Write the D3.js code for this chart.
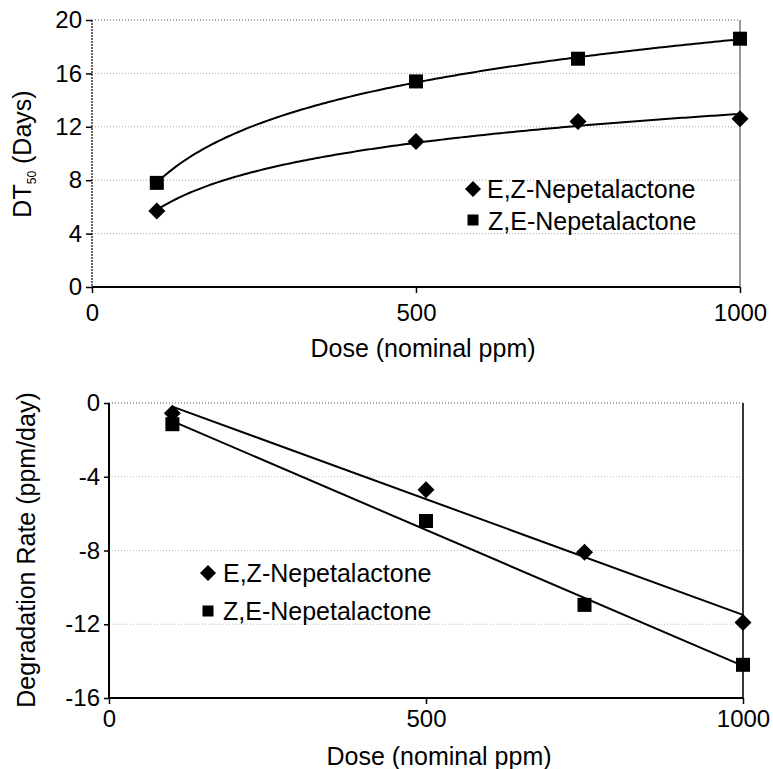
<!DOCTYPE html>
<html>
<head>
<meta charset="utf-8">
<script src="https://cdn.jsdelivr.net/npm/d3@7"></script>
<style>
  body { margin: 0; background: #fff; }
  text { font-family: "Liberation Sans", Arial, sans-serif; fill: #000; }
</style>
</head>
<body>
<svg id="chart" width="773" height="769"></svg>
<script>
// values
const doses = [100, 500, 750, 1000];
const seriesNames = ["E,Z-Nepetalactone", "Z,E-Nepetalactone"];
const dtEZ = [5.7, 10.9, 12.4, 12.6];
const dtZE = [7.8, 15.4, 17.1, 18.6];
const rateEZ = [-0.55, -4.7, -8.1, -11.9];
const rateZE = [-1.15, -6.4, -10.95, -14.2];
const doseTicks = [0, 500, 1000];
const dtTicks = [0, 4, 8, 12, 16, 20];
const rateTicks = [0, -4, -8, -12, -16];

const svg = d3.select("#chart");
const plain = d => String(d);

// least squares trendlines, log for DT50 and linear for rate
function fit(xs, ys, tx) {
    const lx = xs.map(tx);
    const mx = d3.mean(lx), my = d3.mean(ys);
    let sxy = 0, sxx = 0;
    lx.forEach((v, i) => { sxy += (v - mx) * (ys[i] - my); sxx += (v - mx) * (v - mx); });
    const a = sxy / sxx;
    return x => my + a * (tx(x) - mx);
}

const diamond = d3.symbol().type(d3.symbolSquare);

function drawMarker(g, shape, x, y, size) {
    if (shape === "diamond") {
        g.append("path")
            .attr("d", diamond.size(size * size / 2)())
            .attr("transform", `translate(${x},${y}) rotate(45)`)
            .attr("fill", "#000");
    } else {
        g.append("rect")
            .attr("x", x - size / 2).attr("y", y - size / 2)
            .attr("width", size).attr("height", size)
            .attr("fill", "#000");
    }
}

function styleAxis(g, fs) {
    g.select(".domain").remove();
    g.selectAll(".tick line").attr("stroke", "#000").attr("stroke-width", 1.5);
    g.selectAll(".tick text").style("font-size", fs + "px").attr("fill", "#000");
}

// Part 1: DT50 vs dose
{
    const x = d3.scaleLinear().domain([0, 1000]).range([92, 740]);
    const y = d3.scaleLinear().domain([0, 20]).range([287, 20]);
    const g = svg.append("g");

    g.selectAll(".grid").data(dtTicks.filter(d => d > 0)).enter().append("line")
        .attr("x1", x(0)).attr("x2", x(1000))
        .attr("y1", d => y(d)).attr("y2", d => y(d))
        .attr("stroke", d => d === 20 ? "#555" : "#aaa")
        .attr("stroke-width", 1)
        .attr("stroke-dasharray", "1,2");

    // right border
    g.append("line").attr("x1", x(1000)).attr("x2", x(1000)).attr("y1", y(20)).attr("y2", y(0))
        .attr("stroke", "#555").attr("stroke-width", 1.2);
    // y axis line
    g.append("line").attr("x1", x(0)).attr("x2", x(0)).attr("y1", y(20)).attr("y2", y(0))
        .attr("stroke", "#333").attr("stroke-width", 1.5).attr("stroke-dasharray", "2,1");
    // x axis line
    g.append("line").attr("x1", x(0)).attr("x2", x(1000)).attr("y1", y(0)).attr("y2", y(0))
        .attr("stroke", "#000").attr("stroke-width", 2);

    g.append("g").attr("transform", `translate(${x(0)},0)`)
        .call(d3.axisLeft(y).tickValues(dtTicks).tickFormat(plain).tickSize(6).tickPadding(4))
        .call(a => styleAxis(a, 24));
    g.append("g").attr("transform", `translate(0,${y(0)})`)
        .call(d3.axisBottom(x).tickValues(doseTicks).tickFormat(plain).tickSize(6).tickPadding(11))
        .call(a => styleAxis(a, 24));

    const xs = d3.range(d3.min(doses), d3.max(doses) + 1, 5);
    [dtEZ, dtZE].forEach(vals => {
        const f = fit(doses, vals, Math.log);
        g.append("path").datum(xs)
            .attr("fill", "none").attr("stroke", "#000").attr("stroke-width", 2)
            .attr("d", d3.line().x(d => x(d)).y(d => y(f(d))));
    });

    doses.forEach((d, i) => {
        drawMarker(g, "diamond", x(d), y(dtEZ[i]), 17);
        drawMarker(g, "square", x(d), y(dtZE[i]), 14);
    });

    // legend
    drawMarker(g, "diamond", 473, 189, 16);
    drawMarker(g, "square", 473, 220, 11);
    g.append("text").attr("x", 487).attr("y", 198).style("font-size", "25px").text(seriesNames[0]);
    g.append("text").attr("x", 488).attr("y", 230).style("font-size", "25px").text(seriesNames[1]);

    g.append("text").attr("x", 423).attr("y", 357).attr("text-anchor", "middle")
        .style("font-size", "25px").text("Dose (nominal ppm)");

    const yt = g.append("text").attr("transform", "translate(31,154) rotate(-90)")
        .attr("text-anchor", "middle").style("font-size", "25px");
    yt.append("tspan").text("DT");
    yt.append("tspan").attr("dy", 5).style("font-size", "12px").text("50");
    yt.append("tspan").attr("dy", -5).text(" (Days)");
}

// Part 2: degradation rate vs dose
{
    const x = d3.scaleLinear().domain([0, 1000]).range([109, 743]);
    const y = d3.scaleLinear().domain([-16, 0]).range([698, 403]);
    const g = svg.append("g");

    g.selectAll(".grid").data(rateTicks.filter(d => d > -16)).enter().append("line")
        .attr("x1", x(0)).attr("x2", x(1000))
        .attr("y1", d => y(d)).attr("y2", d => y(d))
        .attr("stroke", d => d === 0 ? "#555" : "#bbb")
        .attr("stroke-width", 1)
        .attr("stroke-dasharray", "1,2");

    g.append("line").attr("x1", x(1000)).attr("x2", x(1000)).attr("y1", y(0)).attr("y2", y(-16))
        .attr("stroke", "#222").attr("stroke-width", 1.8);
    g.append("line").attr("x1", x(0)).attr("x2", x(0)).attr("y1", y(0)).attr("y2", y(-16))
        .attr("stroke", "#000").attr("stroke-width", 2);
    g.append("line").attr("x1", x(0)).attr("x2", x(1000)).attr("y1", y(-16)).attr("y2", y(-16))
        .attr("stroke", "#000").attr("stroke-width", 2);

    g.append("g").attr("transform", `translate(${x(0)},0)`)
        .call(d3.axisLeft(y).tickValues(rateTicks).tickFormat(plain).tickSize(5).tickPadding(4))
        .call(a => styleAxis(a, 24));
    g.append("g").attr("transform", `translate(0,${y(-16)})`)
        .call(d3.axisBottom(x).tickValues(doseTicks).tickFormat(plain).tickSize(6).tickPadding(6))
        .call(a => styleAxis(a, 24));

    const ends = d3.extent(doses);
    [rateEZ, rateZE].forEach(vals => {
        const f = fit(doses, vals, v => v);
        g.append("path").datum(ends)
            .attr("fill", "none").attr("stroke", "#000").attr("stroke-width", 2)
            .attr("d", d3.line().x(d => x(d)).y(d => y(f(d))));
    });

    doses.forEach((d, i) => {
        drawMarker(g, "diamond", x(d), y(rateEZ[i]), 17);
        drawMarker(g, "square", x(d), y(rateZE[i]), 14);
    });

    drawMarker(g, "diamond", 208, 573, 16);
    drawMarker(g, "square", 208, 611, 11);
    g.append("text").attr("x", 223).attr("y", 582).style("font-size", "25px").text(seriesNames[0]);
    g.append("text").attr("x", 223).attr("y", 620).style("font-size", "25px").text(seriesNames[1]);

    g.append("text").attr("x", 439).attr("y", 765).attr("text-anchor", "middle")
        .style("font-size", "25px").text("Dose (nominal ppm)");

    g.append("text").attr("transform", "translate(35,550) rotate(-90)")
        .attr("text-anchor", "middle").style("font-size", "25px")
        .text("Degradation Rate (ppm/day)");
}
</script>
</body>
</html>
